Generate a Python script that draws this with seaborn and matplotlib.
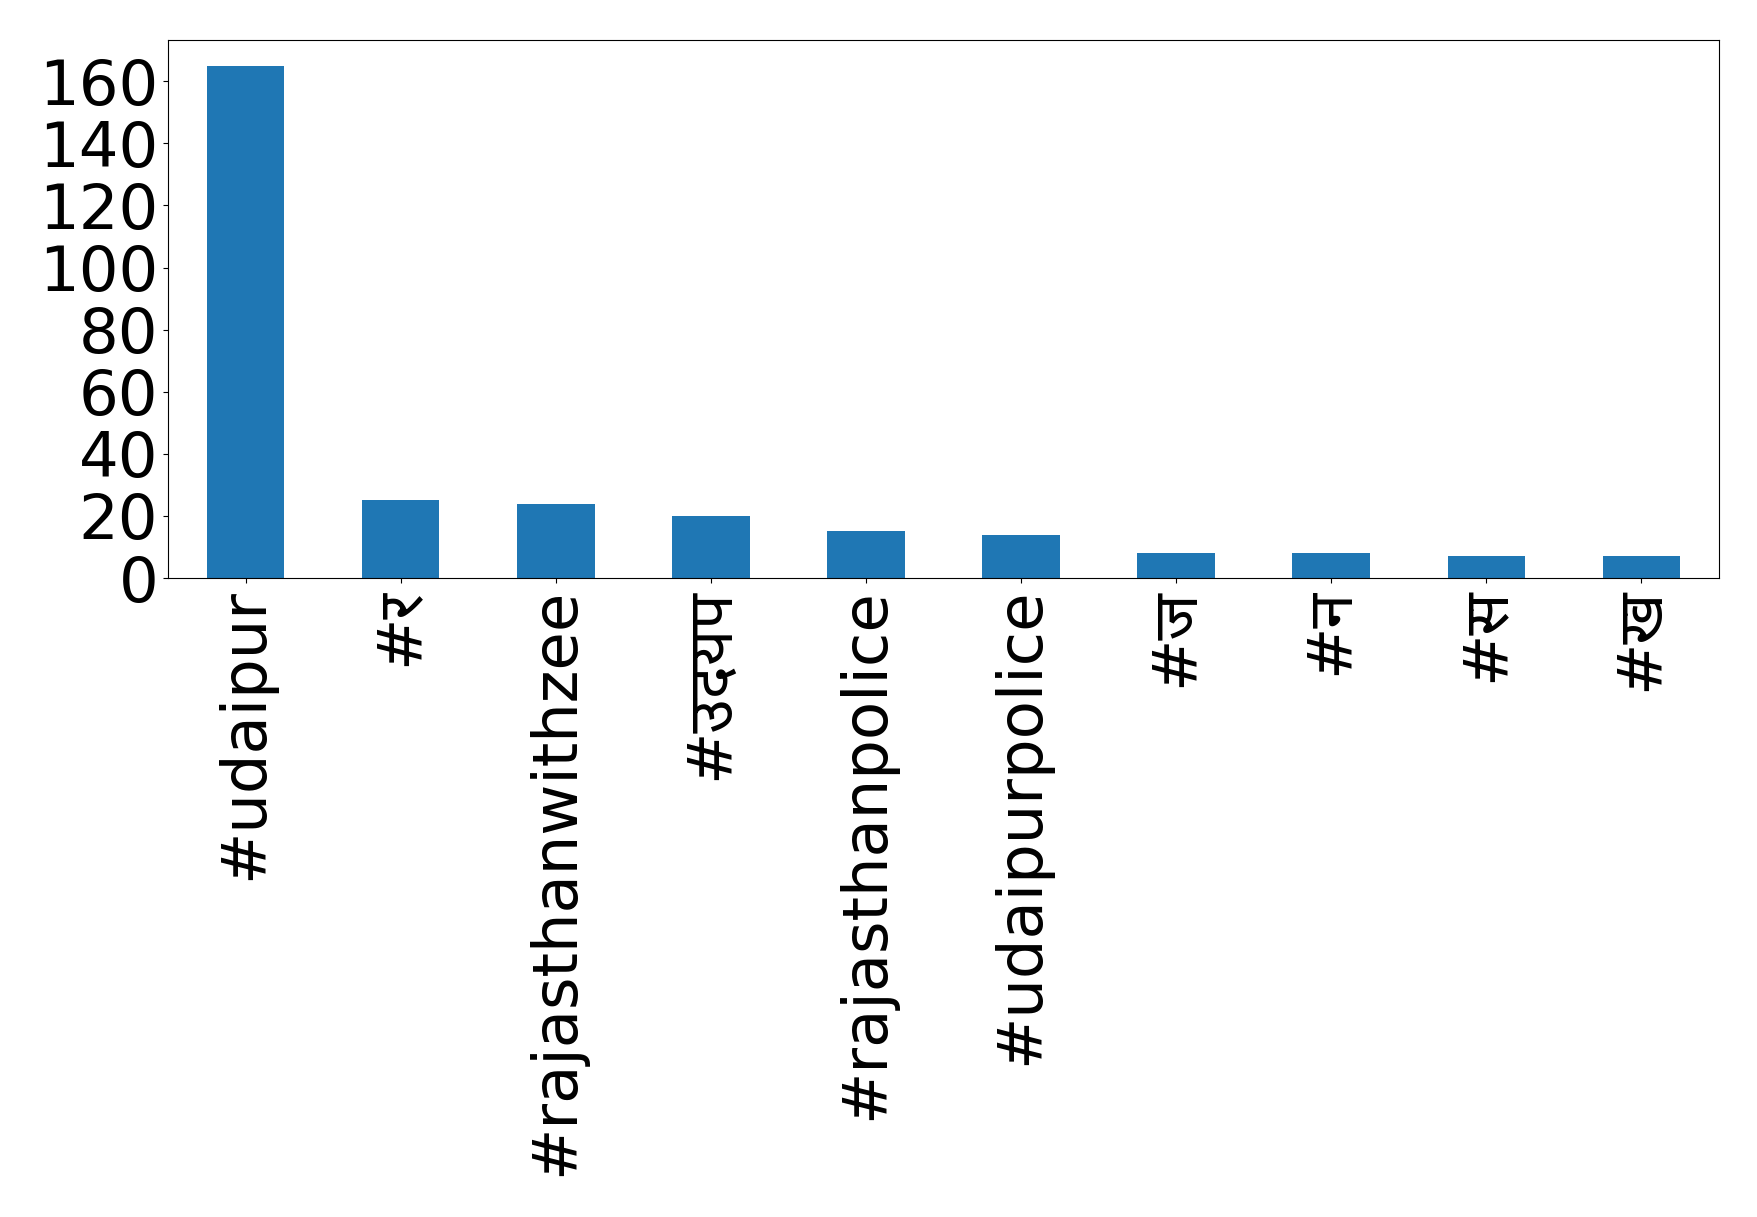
import matplotlib
matplotlib.use("Agg")
import matplotlib.pyplot as plt
import matplotlib.ticker as mticker
import pandas as pd
import seaborn as sns

# hashtag counts (Devanagari tags)
hashtags = ['#udaipur', '#र', '#rajasthanwithzee', '#उदयप', '#rajasthanpolice',
            '#udaipurpolice', '#ज', '#न', '#स', '#ख']
counts = [165, 25, 24, 20, 15, 14, 8, 8, 7, 7]

df = pd.DataFrame({'hashtag': hashtags, 'count': counts})

# fall back through installed families for the Devanagari characters
plt.rcParams['font.family'] = ['DejaVu Sans', 'Noto Sans', 'Noto Sans CJK SC',
                               'Lato', 'Roboto', 'Open Sans', 'Inter',
                               'Liberation Sans']

fig = plt.figure(figsize=(17.58, 12.17), dpi=100)
ax = fig.add_axes([0.0956, 0.5250, 0.8822, 0.4421])

sns.barplot(data=df, x='hashtag', y='count', ax=ax, color='#1f77b4',
            saturation=1, width=0.5)

ax.set_xlabel('')
ax.set_ylabel('')
ax.yaxis.set_major_locator(mticker.MultipleLocator(20))
ax.tick_params(axis='both', labelsize=45)
ax.tick_params(axis='x', labelrotation=90)
ax.set_xlim(-0.5, len(hashtags) - 0.5)

fig.savefig('out.png', dpi=100)
